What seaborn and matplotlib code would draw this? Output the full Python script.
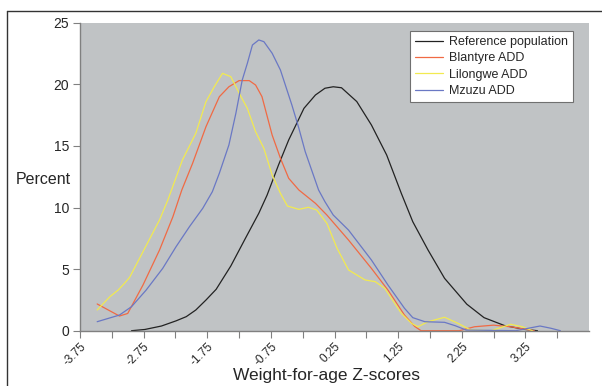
import numpy as np
import pandas as pd
import matplotlib
matplotlib.use("Agg")
import matplotlib.pyplot as plt
from matplotlib.lines import Line2D
from matplotlib.ticker import FixedLocator
import seaborn as sns

# Weight-for-age Z-score distributions (percent)
ref_x = [-2.94, -2.73, -2.47, -2.24, -2.08, -1.93, -1.77, -1.61, -1.38, -1.15, -0.94, -0.81,
         -0.63, -0.47, -0.23, -0.05, 0.10, 0.23, 0.36, 0.60, 0.83, 1.07, 1.30, 1.48, 1.72,
         1.98, 2.33, 2.60, 2.92, 3.23, 3.44]
ref_y = [0, 0.1, 0.38, 0.8, 1.14, 1.68, 2.49, 3.36, 5.25, 7.5, 9.53, 11.0,
         13.45, 15.48, 18.05, 19.13, 19.68, 19.8, 19.72, 18.6, 16.7, 14.26, 11.15, 8.85, 6.55,
         4.25, 2.15, 1.06, 0.42, 0.11, 0]

blantyre_x = [-3.48, -3.13, -3.0, -2.76, -2.50, -2.29, -2.15, -1.98, -1.77, -1.56, -1.41, -1.25,
              -1.09, -0.99, -0.89, -0.73, -0.60, -0.47, -0.31, -0.05, 0.13, 0.47, 0.83, 1.09,
              1.35, 1.51, 1.61, 2.21, 2.45, 2.75, 3.05, 3.31, 3.39]
blantyre_y = [2.17, 1.19, 1.40, 3.71, 6.55, 9.25, 11.42, 13.59, 16.56, 18.99, 19.8, 20.3,
              20.3, 19.94, 19.0, 15.88, 14.0, 12.37, 11.42, 10.34, 9.39, 7.36, 5.06, 3.3,
              1.27, 0.35, 0.0, 0.0, 0.32, 0.45, 0.3, 0.06, 0.0]

lilongwe_x = [-3.48, -3.28, -3.15, -3.05, -2.97, -2.76, -2.50, -2.37, -2.14, -1.93, -1.77, -1.64,
              -1.51, -1.38, -1.22, -1.12, -0.99, -0.86, -0.73, -0.60, -0.49, -0.31, -0.16, -0.03,
              0.13, 0.29, 0.47, 0.73, 0.89, 1.04, 1.30, 1.46, 1.56, 1.72, 1.98, 2.19, 2.39,
              2.71, 3.02, 3.20, 3.36]
lilongwe_y = [1.68, 2.76, 3.3, 3.85, 4.33, 6.41, 8.99, 10.6, 13.86, 16.02, 18.59, 19.8,
              20.89, 20.62, 19.0, 18.05, 16.15, 14.8, 12.64, 11.15, 10.12, 9.85, 10.02, 9.8,
              8.72, 6.69, 4.93, 4.12, 3.98, 3.44, 1.41, 0.6, 0.32, 0.73, 1.09, 0.6, 0.06,
              0.0, 0.52, 0.32, 0.0]

mzuzu_x = [-3.48, -3.13, -2.94, -2.71, -2.45, -2.24, -2.03, -1.82, -1.67, -1.56, -1.41, -1.30,
           -1.20, -1.12, -1.04, -0.94, -0.86, -0.73, -0.60, -0.42, -0.31, -0.21, -0.10, 0.0,
           0.10, 0.23, 0.47, 0.83, 1.09, 1.35, 1.48, 1.67, 1.98, 2.15, 2.32, 3.10, 3.30,
           3.48, 3.65, 3.80]
mzuzu_y = [0.73, 1.27, 1.95, 3.3, 5.06, 6.82, 8.44, 9.94, 11.28, 12.78, 15.07, 17.65,
           20.35, 21.7, 23.19, 23.6, 23.46, 22.52, 21.16, 18.32, 16.43, 14.53, 12.9, 11.42,
           10.47, 9.39, 8.17, 5.74, 3.71, 1.82, 1.06, 0.73, 0.68, 0.4, 0.05, 0.0, 0.2,
           0.38, 0.2, 0.0]

labels = ["Reference population", "Blantyre ADD", "Lilongwe ADD", "Mzuzu ADD"]
colors = ["#222222", "#f06a44", "#f2ea50", "#6a78c4"]
xticks_major = [-3.75, -2.75, -1.75, -0.75, 0.25, 1.25, 2.25, 3.25]

sns.set_style("white")
plt.rcParams['font.family'] = ['Liberation Sans', 'DejaVu Sans']

fig = plt.figure(figsize=(6.02, 3.86), dpi=100)
ax = fig.add_axes([80/602, 1 - 330.7/386, 509/602, 308/386])
ax.set_facecolor("#c0c3c5")

series = [(ref_x, ref_y), (blantyre_x, blantyre_y), (lilongwe_x, lilongwe_y), (mzuzu_x, mzuzu_y)]
for (xs, ys), lab, c in zip(series, labels, colors):
    sns.lineplot(x=xs, y=ys, ax=ax, color=c, linewidth=0.9, label=lab, sort=False)

ax.set_xlim(-3.75, 4.25)
ax.set_ylim(0, 25)
ax.set_yticks([0, 5, 10, 15, 20, 25])
ax.set_xticks(xticks_major)
ax.set_xticklabels([f"{t:.2f}" for t in xticks_major], rotation=45, ha="right",
                   rotation_mode="anchor", fontsize=8.5)
ax.xaxis.set_minor_locator(FixedLocator(np.arange(-3.25, 4.3, 1.0)))
ax.tick_params(axis="y", labelsize=10, length=5, width=0.8, color="#808080", left=True, pad=3)
ax.tick_params(axis="x", which="both", length=5, width=0.8, color="#808080", bottom=True, pad=2)

for side in ["top", "right"]:
    ax.spines[side].set_visible(False)
for side in ["left", "bottom"]:
    ax.spines[side].set_color("#808080")
    ax.spines[side].set_linewidth(1.0)

ax.set_ylabel("")
ax.set_xlabel("")
fig.text(43/602, 1 - 179/386, "Percent", fontsize=11.5, ha="center", va="center")
fig.text(327/602, 1 - 380/386, "Weight-for-age Z-scores", fontsize=12.5, ha="center", va="baseline")

leg = ax.legend(loc="upper right", bbox_to_anchor=(493/509, (330.7 - 31)/308), borderaxespad=0,
                fontsize=9, frameon=True, fancybox=False, edgecolor="#707070", framealpha=1,
                handlelength=2.2, borderpad=0.4, labelspacing=0.35, handletextpad=0.5)
leg.get_frame().set_linewidth(0.8)

# outer chart border
fig.add_artist(Line2D([7/602, 1.0], [1 - 11/386, 1 - 11/386], color="#333333", lw=1.0))
fig.add_artist(Line2D([7/602, 7/602], [0.0, 1 - 11/386], color="#333333", lw=1.0))

fig.savefig("out.png", dpi=100)
